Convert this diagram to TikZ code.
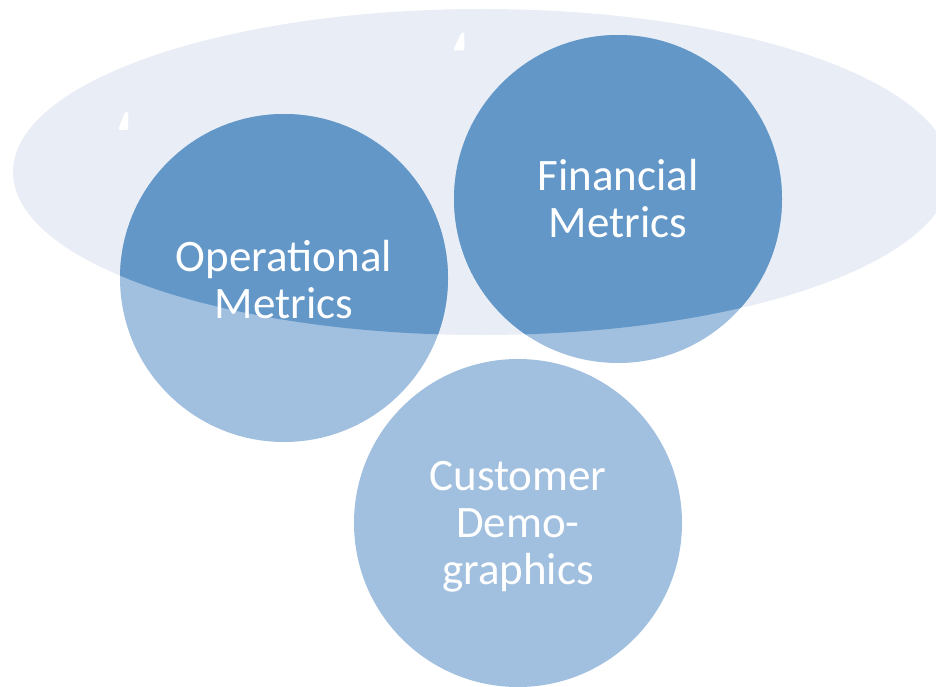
\documentclass[tikz,border=0pt]{standalone}
\usepackage{fontspec}
\setmainfont{Carlito}
\definecolor{ellcol}{HTML}{E9EDF5}
\definecolor{darkblue}{HTML}{6297C8}
\definecolor{lightblue}{HTML}{A1C0DF}
\tikzset{
  lbl/.style={text=white, align=center, font=\fontsize{45}{47}\selectfont},
  whitetick/.style={fill=white, rounded corners=1.5pt},
}
\begin{document}
\begin{tikzpicture}[x=1pt,y=-1pt]
\useasboundingbox (0,0) rectangle (936,687);
\begin{scope}
\clip (0,0) rectangle (936,687);
\fill[ellcol] (482,172) ellipse [x radius=469, y radius=163];
\fill[lightblue] (284,278) circle [radius=164];
\fill[lightblue] (618,199) circle [radius=164];
\fill[lightblue] (518,523) circle [radius=164];
\begin{scope}
\clip (482,172) ellipse [x radius=469, y radius=163];
\fill[darkblue] (284,278) circle [radius=164];
\fill[darkblue] (618,199) circle [radius=164];
\end{scope}
\end{scope}
\fill[whitetick] (125,112) -- (128.5,112) -- (128,130) -- (118,130) -- cycle;
\fill[whitetick] (461.5,32.5) -- (464.5,32.5) -- (464.3,50.5) -- (453,50.5) -- cycle;
\node[lbl] (op) at (284,279.5) {Operational\\Metrics};
\node[lbl] (fin) at (618,199) {Financial\\Metrics};
\node[lbl] (cust) at (518,527) {Customer\\Demo-\\graphics};
\end{tikzpicture}
\end{document}
